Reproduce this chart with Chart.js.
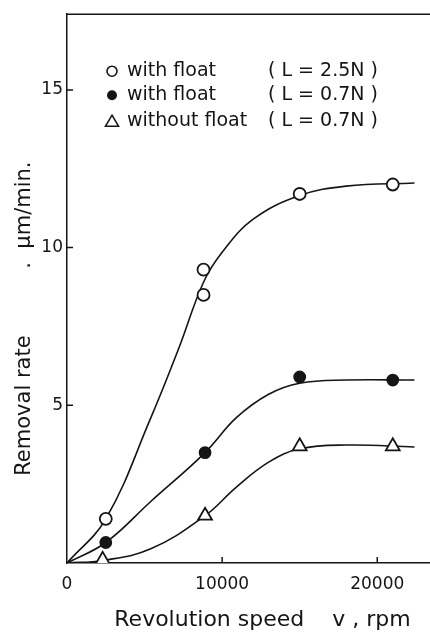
<!DOCTYPE html>
<html>
<head>
<meta charset="utf-8">
<script src="https://cdn.jsdelivr.net/npm/chart.js@4.4.1/dist/chart.umd.min.js"></script>
<style>
  html, body { margin: 0; padding: 0; background: #fff; }
</style>
</head>
<body>
<canvas id="removalChart" width="430" height="638"></canvas>
<script>
// measured points (rpm, µm/min)
const highLoadX = [2500, 8800, 8800, 15000, 21000];
const highLoadY = [1.4, 9.3, 8.5, 11.7, 12.0];
const lowLoadX = [2500, 8900, 15000, 21000];
const lowLoadY = [0.65, 3.5, 5.9, 5.8];
const noFloatX = [2300, 8900, 15000, 21000];
const noFloatY = [0.1, 1.5, 3.7, 3.7];

// hand drawn curves
const curveHighX = [0, 2500, 5400, 7200, 8800, 10000, 12000, 15000, 18000, 22400];
const curveHighY = [0, 1.4, 4.6, 6.8, 8.9, 9.85, 10.9, 11.65, 11.95, 12.05];
const curveLowX = [0, 2500, 5400, 8900, 10900, 13000, 15000, 18000, 22400];
const curveLowY = [0, 0.65, 1.95, 3.5, 4.6, 5.35, 5.7, 5.8, 5.8];
const curveNoFloatX = [0, 2300, 5400, 8900, 10900, 13000, 15000, 18000, 22400];
const curveNoFloatY = [0, 0.08, 0.45, 1.5, 2.4, 3.2, 3.62, 3.74, 3.68];

const xTicks = [0, 10000, 20000];
const yTicks = [5, 10, 15];
const legendNames = ['with float', 'with float', 'without float'];
const legendLoads = ['( L = 2.5N )', '( L = 0.7N )', '( L = 0.7N )'];

const ink = '#151515';
const pts = (xs, ys) => xs.map((x, i) => ({ x, y: ys[i] }));

Chart.defaults.font.family = 'DejaVu Sans';
Chart.defaults.color = ink;

const curve = (xs, ys) => ({
  data: pts(xs, ys),
  showLine: true,
  borderColor: ink,
  borderWidth: 1.6,
  pointRadius: 0,
  tension: 0.4,
  order: 2
});

const marks = (xs, ys, style, fill, r) => ({
  data: pts(xs, ys),
  showLine: false,
  pointStyle: style,
  pointRadius: r,
  pointBorderWidth: 1.8,
  pointBorderColor: ink,
  pointBackgroundColor: fill,
  order: 1
});

// legend drawn inside the plot, two text columns
const figureLegend = {
  id: 'figureLegend',
  afterDraw(chart) {
    const { ctx, chartArea } = chart;
    const mx = chartArea.left + 45;
    const tx = chartArea.left + 60;
    const lx = chartArea.left + 201;
    const rows = [chartArea.top + 57, chartArea.top + 81, chartArea.top + 107];
    ctx.save();
    ctx.strokeStyle = ink;
    ctx.fillStyle = ink;
    ctx.lineWidth = 1.6;
    // markers
    ctx.beginPath();
    ctx.arc(mx, rows[0], 5, 0, Math.PI * 2);
    ctx.stroke();
    ctx.beginPath();
    ctx.arc(mx, rows[1], 5, 0, Math.PI * 2);
    ctx.fill();
    ctx.beginPath();
    ctx.moveTo(mx, rows[2] - 6);
    ctx.lineTo(mx + 6.5, rows[2] + 5);
    ctx.lineTo(mx - 6.5, rows[2] + 5);
    ctx.closePath();
    ctx.stroke();
    ctx.font = '19px "DejaVu Sans"';
    ctx.textBaseline = 'middle';
    rows.forEach((y, i) => {
      ctx.fillText(legendNames[i], tx, y);
      ctx.fillText(legendLoads[i], lx, y);
    });
    ctx.restore();
  }
};

// top frame line and inward tick marks
const frameTicks = {
  id: 'frameTicks',
  afterDraw(chart) {
    const { ctx, chartArea, scales } = chart;
    ctx.save();
    ctx.strokeStyle = ink;
    ctx.lineWidth = 1.5;
    ctx.beginPath();
    ctx.moveTo(chartArea.left, chartArea.top);
    ctx.lineTo(chartArea.right, chartArea.top);
    yTicks.forEach(v => {
      const py = scales.y.getPixelForValue(v);
      ctx.moveTo(chartArea.left, py);
      ctx.lineTo(chartArea.left + 6, py);
    });
    xTicks.filter(v => v > 0).forEach(v => {
      const px = scales.x.getPixelForValue(v);
      ctx.moveTo(px, chartArea.bottom);
      ctx.lineTo(px, chartArea.bottom - 6);
    });
    ctx.stroke();
    ctx.restore();
  }
};

new Chart(document.getElementById('removalChart'), {
  type: 'scatter',
  data: {
    datasets: [
      curve(curveHighX, curveHighY),
      curve(curveLowX, curveLowY),
      curve(curveNoFloatX, curveNoFloatY),
      marks(highLoadX, highLoadY, 'circle', '#fff', 6),
      marks(lowLoadX, lowLoadY, 'circle', ink, 5.5),
      marks(noFloatX, noFloatY, 'triangle', '#fff', 8)
    ]
  },
  options: {
    responsive: false,
    animation: false,
    devicePixelRatio: 1,
    layout: { autoPadding: false, padding: { top: 13, right: 0, left: 0, bottom: 0 } },
    plugins: { legend: { display: false }, tooltip: { enabled: false } },
    scales: {
      x: {
        type: 'linear',
        min: 0,
        max: 23400,
        afterBuildTicks: s => { s.ticks = xTicks.map(v => ({ value: v })); },
        afterFit: s => { s.height = 75; s.paddingRight = 0; s.paddingLeft = 0; },
        grid: { drawOnChartArea: false, drawTicks: false },
        border: { display: true, color: ink, width: 1.5 },
        ticks: { padding: 11, maxRotation: 0, font: { size: 17 }, callback: v => String(v) },
        title: {
          display: true,
          text: '    Revolution speed    v , rpm',
          font: { size: 22 },
          padding: { top: 0, bottom: 5 }
        }
      },
      y: {
        type: 'linear',
        min: 0,
        max: 17.4,
        afterBuildTicks: s => { s.ticks = yTicks.map(v => ({ value: v })); },
        afterFit: s => { s.width = 67; },
        grid: { drawOnChartArea: false, drawTicks: false },
        border: { display: true, color: ink, width: 1.5 },
        ticks: { padding: 4, font: { size: 17 }, callback: v => String(v) },
        title: {
          display: true,
          text: 'Removal rate          .  μm/min.         ',
          font: { size: 21 },
          padding: { top: 12, bottom: 0 }
        }
      }
    }
  },
  plugins: [figureLegend, frameTicks]
});
</script>
</body>
</html>
